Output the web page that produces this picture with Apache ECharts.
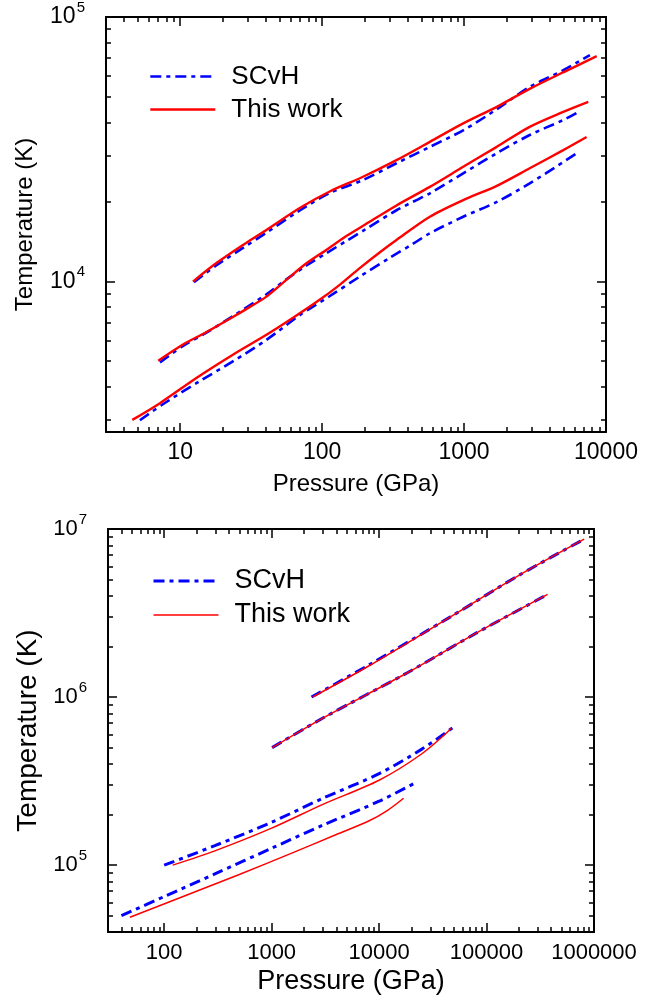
<!DOCTYPE html>
<html><head><meta charset="utf-8">
<script src="https://cdn.jsdelivr.net/npm/echarts@6/dist/echarts.min.js"></script>
<style>html,body{margin:0;padding:0;background:#fff}#c{width:671px;height:1002px}</style>
</head><body><div id="c"></div>
<script>
// ---------- data (pressure GPa, temperature K) ----------
const seriesNames = ['SCvH', 'This work'];

// top panel
const topScvh3000 = [[5.2,2990],[7.5,3430],[13.7,4200],[23.5,4990],[40.5,6020],[70,7480],[112,8780],[184,10440],[300,12300],[438,13900],[574,15230],[986,17580],[1700,20000],[2900,23500],[6200,30500]];
const topWork3000 = [[4.6,3000],[7.2,3470],[13,4320],[23.5,5290],[40.5,6290],[62,7280],[96,8530],[133,9720],[184,11240],[250,12800],[334,14360],[574,17580],[986,20320],[1700,23000],[2900,26800],[5000,31400],[7300,35200]];
const topScvh5000 = [[7.2,4950],[10.4,5700],[15.2,6400],[23.5,7400],[40.5,8950],[56,10200],[77.5,11500],[107,12800],[150,14300],[200,15700],[334,18600],[574,21560],[986,25650],[1700,30550],[2900,35800],[5000,40800],[6400,43800]];
const topWork5000 = [[7,5020],[10.4,5770],[15.2,6430],[23.5,7345],[30.8,8005],[40.5,8770],[56,10150],[77.5,11720],[107,13170],[150,14920],[200,16400],[334,19400],[574,22800],[986,27150],[1700,32300],[2900,38450],[5000,43800],[7500,47800]];
const topScvh10000 = [[12.5,9950],[17.9,11500],[27.7,13400],[40.5,15300],[70,18600],[113,21600],[194,24200],[334,28000],[574,32300],[986,37300],[1700,44800],[2900,54400],[5000,62900],[7700,71800]];
const topWork10000 = [[12.3,10000],[17.9,11720],[27.7,13750],[40.5,15670],[70,19000],[113,21900],[194,24900],[334,28770],[574,33740],[986,39600],[1700,45760],[2900,53500],[5000,61800],[8600,71100]];

// bottom panel
const botScvh5e4 = [[40,50000],[100,65000],[300,89000],[1000,126000],[3000,173000],[10000,240000],[22000,310000]];
const botWork5e4 = [[48,49000],[150,65000],[500,88000],[1500,117000],[4000,152000],[8000,183000],[12000,212000],[16900,250000]];
const botScvh1e5 = [[100,100000],[300,131000],[1000,180000],[3000,250000],[10000,350000],[25000,490000],[49000,660000]];
const botWork1e5 = [[120,100000],[300,122000],[1000,166000],[3000,230000],[10000,320000],[25000,460000],[47000,650000]];
const botScvh5e5 = [[1010,500000],[3000,750000],[18500,1400000],[80000,2400000],[370000,4080000]];
const botWork5e5 = [[1010,500000],[3000,750000],[18500,1400000],[80000,2400000],[370000,4080000]];
const botScvh1e6 = [[2350,1000000],[8000,1550000],[45700,2990000],[200000,5300000],[810000,8700000]];
const botWork1e6 = [[2400,1000000],[8000,1530000],[45700,2990000],[200000,5300000],[810000,8700000]];

// ticks
const topXMajor = [10, 100, 1000, 10000];
const topXMinor = [4,5,6,7,8,9,20,30,40,50,60,70,80,90,200,300,400,500,600,700,800,900,2000,3000,4000,5000,6000,7000,8000,9000];
const topYMajor = [10000, 100000];
const topYMinor = [3000,4000,5000,6000,7000,8000,9000,20000,30000,40000,50000,60000,70000,80000,90000];
const botXMajor = [100, 1000, 10000, 100000, 1000000];
const botXMinor = [40,50,60,70,80,90,200,300,400,500,600,700,800,900,2000,3000,4000,5000,6000,7000,8000,9000,20000,30000,40000,50000,60000,70000,80000,90000,200000,300000,400000,500000,600000,700000,800000,900000];
const botYMajor = [100000, 1000000, 10000000];
const botYMinor = [50000,60000,70000,80000,90000,200000,300000,400000,500000,600000,700000,800000,900000,2000000,3000000,4000000,5000000,6000000,7000000,8000000,9000000];

// ---------- styling ----------
const FONT = '"Liberation Sans", Arial, sans-serif';
const BLUE = '#0000ff', RED = '#ff0000';
const DASHDOT = [11, 5, 4, 5];

function supLabel(fs, sfs) {
  return {
    formatter: v => '{b|10}{s|' + Math.round(Math.log10(v)) + '}',
    rich: {
      b: {fontSize: fs, lineHeight: 34, fontFamily: FONT, color: '#000'},
      s: {fontSize: sfs, lineHeight: sfs, verticalAlign: 'top', fontFamily: FONT, color: '#000', padding: [0,0,0,1]}
    }
  };
}
const plainLabel = {formatter: v => String(Math.round(v))};

function axes(kind, gi, min, max, majors, minors, o) {
  const pos = kind === 'x' ? ['bottom', 'top'] : ['left', 'right'];
  const base = {type: 'log', logBase: 10, gridIndex: gi, min: min, max: max,
    splitLine: {show: false}, minorTick: {show: false}, axisPointer: {show: false}};
  const lineOn = {show: true, onZero: false, lineStyle: {color: '#000', width: 2}};
  const tick = (vals, len) => ({show: true, inside: true, length: len, customValues: vals,
    lineStyle: {color: '#000', width: 1.5}});
  const out = [];
  out.push(Object.assign({}, base, {
    position: pos[0], axisLine: lineOn, axisTick: tick(majors, 9),
    axisLabel: Object.assign({show: true, customValues: majors, margin: o.margin,
      fontSize: o.fs, fontFamily: FONT, color: '#000'}, o.label || {}),
    name: o.name, nameLocation: 'middle', nameGap: o.nameGap,
    nameTextStyle: {fontSize: o.nfs, fontFamily: FONT, color: '#000'}
  }));
  out.push(Object.assign({}, base, {position: pos[0], axisLine: {show: false}, axisTick: tick(minors, 5), axisLabel: {show: false}}));
  out.push(Object.assign({}, base, {position: pos[1], axisLine: lineOn, axisTick: tick(majors, 9), axisLabel: {show: false}}));
  out.push(Object.assign({}, base, {position: pos[1], axisLine: {show: false}, axisTick: tick(minors, 5), axisLabel: {show: false}}));
  return out;
}

const xAxes = [].concat(
  axes('x', 0, 3, 10000, topXMajor, topXMinor, {fs: 23, margin: 9, label: plainLabel, name: 'Pressure (GPa)', nameGap: 40, nfs: 24}),
  axes('x', 1, 30, 1000000, botXMajor, botXMinor, {fs: 22, margin: 10, label: plainLabel, name: 'Pressure (GPa)', nameGap: 36, nfs: 27})
);
const yAxes = [].concat(
  axes('y', 0, 2700, 100000, topYMajor, topYMinor, {fs: 23, margin: 21, label: supLabel(23, 15), name: 'Temperature (K)', nameGap: 69, nfs: 24}),
  axes('y', 1, 40000, 10000000, botYMajor, botYMinor, {fs: 22, margin: 21, label: supLabel(22, 15), name: 'Temperature (K)', nameGap: 66, nfs: 28})
);

function line(name, data, gi, color, width, dash) {
  return {type: 'line', name: name, data: data, xAxisIndex: gi * 4, yAxisIndex: gi * 4,
    symbol: 'none', showSymbol: false, smooth: 0.3, silent: true,
    lineStyle: {color: color, width: width, type: dash || 'solid'}, itemStyle: {color: color},
    z: color === RED ? 3 : 2};
}

const series = [
  line(seriesNames[0], topScvh3000, 0, BLUE, 2.6, DASHDOT),
  line(seriesNames[0], topScvh5000, 0, BLUE, 2.6, DASHDOT),
  line(seriesNames[0], topScvh10000, 0, BLUE, 2.6, DASHDOT),
  line(seriesNames[1], topWork3000, 0, RED, 2.4),
  line(seriesNames[1], topWork5000, 0, RED, 2.4),
  line(seriesNames[1], topWork10000, 0, RED, 2.4),
  line(seriesNames[0], botScvh5e4, 1, BLUE, 3, DASHDOT),
  line(seriesNames[0], botScvh1e5, 1, BLUE, 3, DASHDOT),
  line(seriesNames[0], botScvh5e5, 1, BLUE, 3, DASHDOT),
  line(seriesNames[0], botScvh1e6, 1, BLUE, 3, DASHDOT),
  line(seriesNames[1], botWork5e4, 1, RED, 1.5),
  line(seriesNames[1], botWork1e5, 1, RED, 1.5),
  line(seriesNames[1], botWork5e5, 1, RED, 1.5),
  line(seriesNames[1], botWork1e6, 1, RED, 1.5)
];

const hideSym = {opacity: 0};
const chart = echarts.init(document.getElementById('c'), null, {renderer: 'canvas'});
chart.setOption({
  backgroundColor: '#fff',
  animation: false,
  textStyle: {fontFamily: FONT},
  grid: [
    {left: 106, top: 17, width: 500, height: 415},
    {left: 108, top: 529, width: 486, height: 403}
  ],
  xAxis: xAxes,
  yAxis: yAxes,
  legend: [
    {orient: 'vertical', left: 144, top: 55, itemWidth: 65, itemHeight: 14, itemGap: 0,
     selectedMode: false, itemStyle: hideSym,
     textStyle: {fontSize: 26, lineHeight: 33, fontFamily: FONT, color: '#000', padding: [0,0,0,11]},
     data: [
       {name: seriesNames[0], itemStyle: hideSym, lineStyle: {width: 2.6, type: DASHDOT, color: BLUE}},
       {name: seriesNames[1], itemStyle: hideSym, lineStyle: {width: 2.4, color: RED}}
     ]},
    {orient: 'vertical', left: 147, top: 559, itemWidth: 65, itemHeight: 14, itemGap: 0,
     selectedMode: false, itemStyle: hideSym,
     textStyle: {fontSize: 27, lineHeight: 34, fontFamily: FONT, color: '#000', padding: [0,0,0,11]},
     data: [
       {name: seriesNames[0], itemStyle: hideSym, lineStyle: {width: 3, type: DASHDOT, color: BLUE}},
       {name: seriesNames[1], itemStyle: hideSym, lineStyle: {width: 1.5, color: RED}}
     ]}
  ],
  series: series
});
</script>
</body></html>
